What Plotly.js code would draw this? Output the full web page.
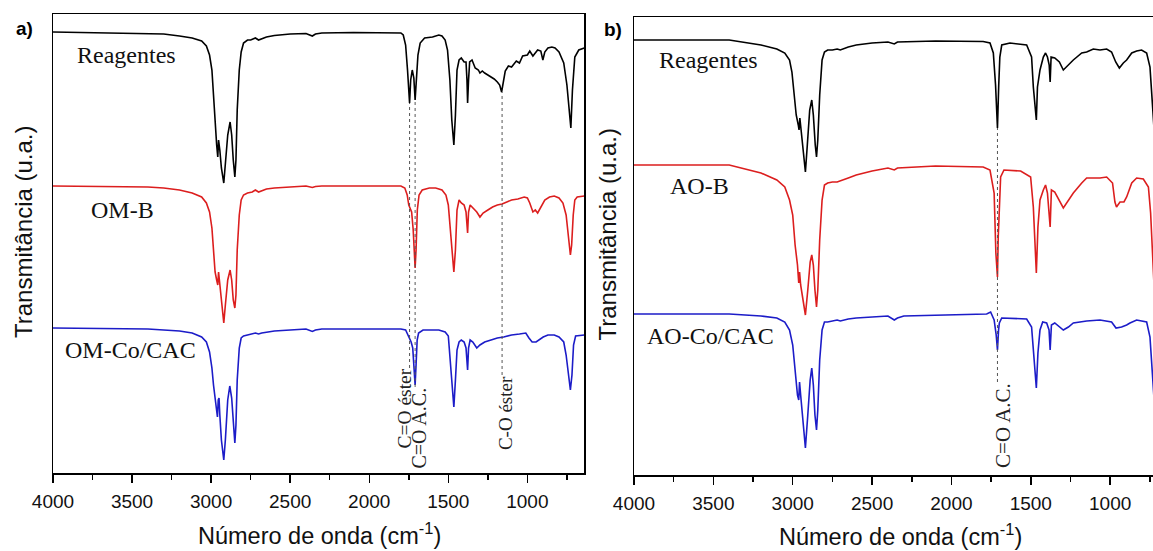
<!DOCTYPE html>
<html>
<head>
<meta charset="utf-8">
<script src="https://cdn.plot.ly/plotly-3.0.1.min.js"></script>
<style>html,body{margin:0;padding:0;background:#fff;}#chart{width:1153px;height:551px;}</style>
</head>
<body>
<div id="chart"></div>
<script>
// ---- Panel a) spectra: [wavenumber (cm-1), transmittance (a.u., offset)] ----
const reagentesA = [[4000,441],[3800,440.5],[3600,440],[3400,440],[3300,439],[3200,437],[3120,435],[3060,432],[3030,427],[3010,418],[2995,403],[2985,378],[2975,348],[2965,328],[2958,316],[2953,333],[2945,323],[2935,305],[2920,290],[2910,308],[2895,338],[2880,351],[2870,338],[2860,313],[2850,296],[2843,313],[2835,363],[2822,403],[2810,421],[2795,430],[2770,433],[2750,433],[2720,435],[2700,433],[2680,434],[2650,436],[2600,437.5],[2500,439],[2400,439.5],[2360,437],[2340,439],[2300,440],[2100,440.5],[1900,440.5],[1800,440],[1785,438],[1770,428],[1758,403],[1745,370],[1738,393],[1728,403],[1718,395],[1710,373],[1702,393],[1692,418],[1678,430],[1650,435],[1600,436],[1560,438],[1540,437],[1520,433],[1505,423],[1490,393],[1478,353],[1465,328],[1455,358],[1445,403],[1432,413],[1418,415],[1400,411],[1388,411],[1382,393],[1378,370],[1372,393],[1365,411],[1350,413],[1330,405],[1310,403],[1300,400],[1285,402],[1270,400],[1240,397],[1210,394],[1190,391],[1175,388],[1163,381],[1152,392],[1140,402],[1120,407],[1100,406],[1070,412],[1050,410],[1030,417],[1000,418],[985,422],[965,417],[955,419],[935,423],[915,422],[902,413],[890,421],[870,425],[845,426],[825,425],[800,421],[770,410],[750,388],[735,363],[725,345],[715,383],[700,416],[675,423],[640,425]];
const omB = [[4000,287],[3700,286.5],[3400,286],[3300,285],[3200,283],[3120,280],[3060,276],[3030,270],[3010,261],[2995,245],[2985,223],[2975,201],[2965,193],[2958,188],[2953,201],[2945,188],[2935,168],[2920,150],[2910,168],[2895,193],[2880,203],[2870,193],[2860,173],[2850,165],[2843,178],[2835,223],[2822,258],[2810,273],[2795,278],[2770,280],[2740,281],[2720,283],[2700,281],[2680,282],[2650,284],[2600,285],[2500,286],[2400,287],[2360,285.5],[2340,286.5],[2300,287],[2000,287],[1800,287],[1775,285],[1760,278],[1750,268],[1742,265],[1732,261],[1722,243],[1715,218],[1710,205],[1704,223],[1696,263],[1685,278],[1665,283],[1620,285],[1580,285],[1540,283],[1515,278],[1500,268],[1488,243],[1475,213],[1465,201],[1455,223],[1445,263],[1432,273],[1418,270],[1400,268],[1388,261],[1378,240],[1372,261],[1362,268],[1345,265],[1320,261],[1300,256],[1280,260],[1250,263],[1220,266],[1190,268],[1160,269],[1130,271],[1100,273],[1060,274],[1020,276],[1000,275],[985,270],[965,261],[950,263],[935,260],[915,266],[890,273],[860,276],[830,277],[800,275],[775,270],[755,258],[740,233],[728,218],[720,228],[710,258],[700,273],[685,276],[640,277]];
const omCoCAC = [[4000,145],[3700,144.5],[3400,144],[3200,142],[3120,140],[3060,136],[3030,131],[3010,121],[2995,105],[2985,88],[2975,73],[2965,63],[2960,56],[2955,73],[2950,75],[2945,58],[2935,33],[2920,13],[2910,33],[2895,73],[2882,87],[2870,75],[2860,48],[2850,30],[2843,48],[2835,93],[2822,125],[2810,135],[2795,137],[2770,138],[2740,139],[2720,140],[2700,139],[2680,140],[2600,142],[2500,143],[2400,144],[2360,141.5],[2340,143],[2300,144],[2000,144],[1800,144],[1770,143],[1755,138],[1745,133],[1735,131],[1725,125],[1717,108],[1710,88],[1704,108],[1697,133],[1688,140],[1660,143],[1560,143],[1520,141],[1500,137],[1488,113],[1475,78],[1465,66],[1455,93],[1445,123],[1432,131],[1418,133],[1400,131],[1388,125],[1378,103],[1372,125],[1362,133],[1345,131],[1320,125],[1300,128],[1270,131],[1230,133],[1190,135],[1150,136],[1100,138],[1050,139],[1010,140],[990,135],[970,131],[945,131],[925,133],[900,136],[870,138],[830,138],[800,136],[770,131],[755,118],[742,98],[728,83],[718,98],[708,128],[695,137],[640,138]];

// ---- Panel b) spectra ----
const reagentesB = [[4000,435],[3700,435],[3400,435],[3200,430],[3100,426],[3050,422],[3020,415],[3005,403],[2990,380],[2978,360],[2965,350],[2960,345],[2955,357],[2950,350],[2935,325],[2920,303],[2908,330],[2893,365],[2880,375],[2870,360],[2858,330],[2850,318],[2842,335],[2830,380],[2815,415],[2800,423],[2780,425],[2750,425],[2720,426],[2700,425],[2650,428],[2600,430],[2500,432],[2400,433],[2360,431],[2340,433],[2100,434],[1800,433.5],[1757,432],[1736,422],[1722,390],[1710,347],[1702,390],[1695,418],[1683,430],[1631,432],[1526,430],[1495,418],[1484,388],[1465,355],[1458,388],[1442,405],[1421,418],[1407,422],[1395,418],[1384,410],[1378,393],[1372,418],[1349,417],[1320,413],[1295,405],[1263,410],[1232,415],[1179,422],[1148,423],[1106,426],[1064,425],[1022,426],[991,423],[965,413],[942,407],[917,412],[896,415],[864,422],[833,424],[802,425],[770,422],[749,408],[735,372],[725,350]];
const aoB = [[4000,310],[3600,310],[3400,310],[3200,302],[3100,295],[3050,288],[3020,275],[3000,260],[2985,230],[2970,210],[2962,192],[2957,203],[2950,190],[2935,175],[2920,160],[2905,185],[2890,213],[2880,220],[2870,210],[2860,185],[2850,168],[2842,185],[2830,235],[2815,275],[2800,290],[2780,292],[2750,293],[2720,293],[2700,294],[2650,297],[2600,300],[2500,304],[2400,307],[2360,305],[2340,307],[2100,309],[1800,308],[1757,305],[1731,282],[1720,222],[1710,198],[1705,238],[1690,298],[1669,305],[1564,304],[1501,298],[1484,268],[1465,202],[1455,248],[1442,275],[1421,285],[1407,290],[1395,282],[1378,248],[1370,285],[1349,283],[1295,267],[1263,275],[1232,282],[1179,292],[1148,297],[1064,297],[1022,298],[985,292],[970,273],[960,268],[938,273],[913,273],[896,278],[864,292],[833,297],[791,296],[759,288],[745,262],[735,222],[725,195]];
const aoCoCAC = [[4000,161],[3600,161],[3400,161],[3200,159],[3100,157],[3050,153],[3020,145],[3000,130],[2985,105],[2970,80],[2962,75],[2957,93],[2950,80],[2935,50],[2920,27],[2905,60],[2890,95],[2880,107],[2870,90],[2860,60],[2850,45],[2842,65],[2830,115],[2815,145],[2800,153],[2780,153],[2750,154],[2720,155],[2700,154],[2650,156],[2600,157],[2500,158],[2400,159],[2360,155],[2340,157],[2300,159],[2000,160],[1778,161],[1753,163],[1731,155],[1718,140],[1710,125],[1703,145],[1698,152],[1683,157],[1526,156],[1495,148],[1484,128],[1465,87],[1455,122],[1442,145],[1425,153],[1400,152],[1385,145],[1378,125],[1370,150],[1349,152],[1295,145],[1263,148],[1232,152],[1148,154],[1064,155],[991,153],[963,147],[928,148],[896,150],[875,152],[833,155],[770,153],[749,138],[735,105],[725,80]];

// ---- Band markers ----
const bandsA = [1745, 1710, 1160];
const bandLabelsA = ['C=O éster', 'C=O A.C.', 'C-O éster'];
const bandTopA = [370, 373, 381];     // transmittance at black band minimum
const bandBottomA = [105, 86, 98];    // where the label starts
const bandsB = [1710];
const bandLabelsB = ['C=O A.C.'];
const bandTopB = [347];
const bandBottomB = [93];

const seriesNamesA = ['Reagentes', 'OM-B', 'OM-Co/CAC'];
const seriesNamesB = ['Reagentes', 'AO-B', 'AO-Co/CAC'];
const colors = ['#000000', '#dc1e1e', '#1c1cc8'];
const xTickVals = [4000, 3500, 3000, 2500, 2000, 1500, 1000];

const W = 1153, H = 551;
const px = v => v / W, py = v => 1 - v / H;

function tr(data, i, xa, ya, name) {
  return {x: data.map(d => d[0]), y: data.map(d => d[1]), type: 'scatter', mode: 'lines',
    name: name, xaxis: xa, yaxis: ya, line: {color: colors[i], width: 1.6}, hoverinfo: 'skip'};
}
const traces = [
  tr(reagentesA, 0, 'x', 'y', seriesNamesA[0]),
  tr(omB, 1, 'x', 'y', seriesNamesA[1]),
  tr(omCoCAC, 2, 'x', 'y', seriesNamesA[2]),
  tr(reagentesB, 0, 'x2', 'y2', seriesNamesB[0]),
  tr(aoB, 1, 'x2', 'y2', seriesNamesB[1]),
  tr(aoCoCAC, 2, 'x2', 'y2', seriesNamesB[2])
];

const sans = 'Liberation Sans, Arial, sans-serif';
const serif = 'Liberation Serif, Times New Roman, serif';
function xAx(domain, range, anchor) {
  return {domain: domain, range: range, anchor: anchor, showline: true, linecolor: '#000', linewidth: 1.5,
    mirror: true, ticks: 'outside', ticklen: 8, tickwidth: 1.5, tickcolor: '#000', tickvals: xTickVals,
    ticklabelstandoff: 3,
    minor: {dtick: 250, tick0: 0, ticks: 'outside', ticklen: 5, tickwidth: 1.5, tickcolor: '#000', showgrid: false},
    showgrid: false, zeroline: false, tickfont: {family: sans, size: 19, color: '#111'}};
}
function yAx(domain, range, anchor, mirror) {
  return {domain: domain, range: range, anchor: anchor, showline: true, linecolor: '#000', linewidth: 1.5,
    mirror: mirror, ticks: '', showticklabels: false, showgrid: false, zeroline: false};
}

const annotations = [];
const shapes = [];
function addBands(bands, labels, tops, bottoms, xr, yr, shifts, sizes) {
  bands.forEach((b, i) => {
    shapes.push({type: 'line', xref: xr, yref: yr, x0: b, x1: b, y0: bottoms[i], y1: tops[i],
      line: {color: '#555', width: 1, dash: 'dot'}});
    annotations.push({xref: xr, yref: yr, x: b, y: bottoms[i], text: labels[i], textangle: -90,
      showarrow: false, xanchor: 'center', yanchor: 'top', xshift: shifts[i], borderpad: 0,
      font: {family: serif, size: sizes[i], color: '#222'}});
  });
}
addBands(bandsA, bandLabelsA, bandTopA, bandBottomA, 'x', 'y', [-6, 3, 3], [19.5, 20, 19]);
addBands(bandsB, bandLabelsB, bandTopB, bandBottomB, 'x2', 'y2', [5], [21]);

function label(text, x, y, font, opts) {
  annotations.push(Object.assign({xref: 'paper', yref: 'paper', x: px(x), y: py(y), text: text,
    showarrow: false, xanchor: 'left', yanchor: 'middle', borderpad: 0, font: font}, opts || {}));
}
const serifF = {family: serif, size: 24, color: '#111'};
label(seriesNamesA[0], 76, 55, serifF);
label(seriesNamesA[1], 90, 210, serifF);
label(seriesNamesA[2], 64, 350, serifF);
label(seriesNamesB[0], 658, 60.5, serifF);
label(seriesNamesB[1], 669, 186.5, serifF);
label(seriesNamesB[2], 646, 335.5, serifF);
label('<b>a)</b>', 24, 29, {family: sans, size: 19, color: '#000'}, {xanchor: 'center'});
label('<b>b)</b>', 613, 30, {family: sans, size: 19, color: '#000'}, {xanchor: 'center'});
const titleF = {family: sans, size: 23.5, color: '#111'};
label('Número de onda (cm<sup>-1</sup>)', 319, 534, titleF, {xanchor: 'center'});
label('Número de onda (cm<sup>-1</sup>)', 900, 535, titleF, {xanchor: 'center'});
const yTitleF = {family: sans, size: 24, color: '#111'};
label('Transmitância (u.a.)', 23, 232, yTitleF, {xanchor: 'center', textangle: -90});
label('Transmitância (u.a.)', 606.5, 234, yTitleF, {xanchor: 'center', textangle: -90});

const layout = {
  width: W, height: H, margin: {l: 0, r: 0, t: 0, b: 0}, paper_bgcolor: '#fff', plot_bgcolor: '#fff',
  showlegend: false,
  xaxis: xAx([53 / W, 584.3 / W], [4000, 640], 'y'),
  yaxis: yAx([78 / H, 537 / H], [0, 459], 'x', true),
  xaxis2: xAx([634 / W, 1], [4000, 730], 'y2'),
  yaxis2: yAx([76 / H, 534 / H], [0, 458], 'x2', false),
  annotations: annotations, shapes: shapes
};
Plotly.newPlot('chart', traces, layout, {displayModeBar: false, staticPlot: true});
</script>
</body>
</html>
